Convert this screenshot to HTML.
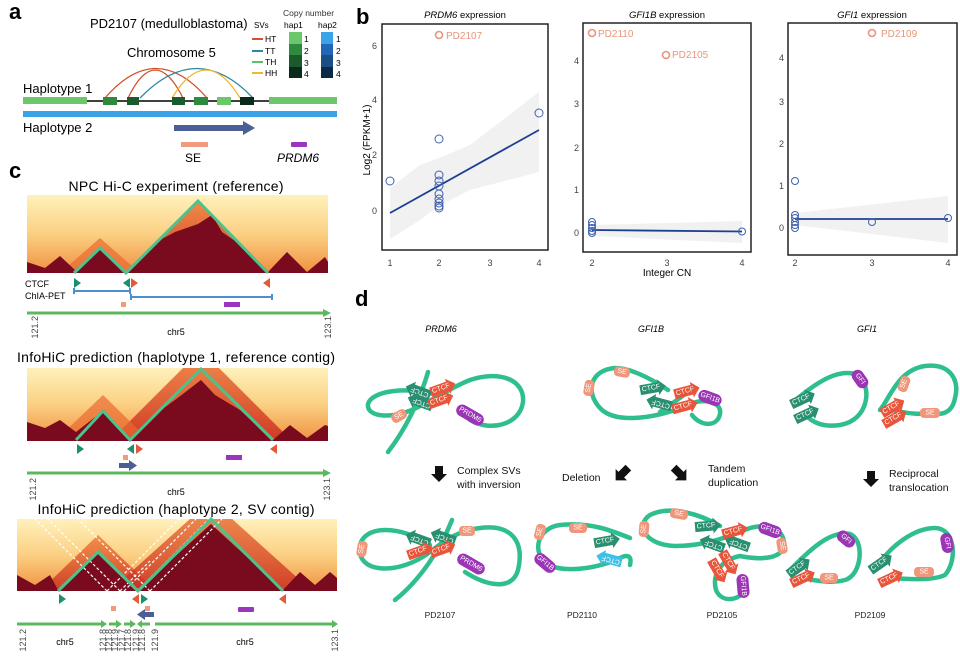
<!DOCTYPE html>
<html><head><meta charset="utf-8"><style>
html,body{margin:0;padding:0;background:#fff;}
svg{display:block;font-family:"Liberation Sans",Arial,sans-serif;}
.t{font-size:7px;fill:#fff;text-anchor:middle;dominant-baseline:central;}
.ax{font-size:9px;fill:#444;}
</style></head><body>
<svg width="960" height="661" viewBox="0 0 960 661" xmlns="http://www.w3.org/2000/svg">
<defs>
<linearGradient id="hg" x1="0" y1="0" x2="0" y2="1">
<stop offset="0" stop-color="#fff1bb"/><stop offset="0.5" stop-color="#fbd083"/><stop offset="1" stop-color="#f09040"/>
</linearGradient>
<linearGradient id="og" x1="0" y1="0" x2="0" y2="1">
<stop offset="0" stop-color="#f07a35"/><stop offset="1" stop-color="#c82a20"/>
</linearGradient>
<clipPath id="c1"><rect x="27" y="195" width="301" height="78"/></clipPath>
<clipPath id="c2"><rect x="27" y="368" width="301" height="73"/></clipPath>
<clipPath id="c3"><rect x="17" y="519" width="320" height="72"/></clipPath>
<g id="ctg"><polygon points="-13,-5 5,-5 5,-8 13,0 5,8 5,5 -13,5"/><text class="t" x="-2" y="0">CTCF</text></g>
</defs>

<!-- ===== Panel a ===== -->
<text x="9" y="19" font-size="22" font-weight="bold">a</text>
<text x="90" y="28" font-size="13">PD2107 (medulloblastoma)</text>
<text x="127" y="57" font-size="13">Chromosome 5</text>
<text x="254" y="28" font-size="8">SVs</text>
<text x="283" y="16" font-size="8.5" fill="#333">Copy number</text>
<text x="284" y="28" font-size="8.5">hap1</text>
<text x="318" y="28" font-size="8.5">hap2</text>
<g stroke-width="2"><line x1="252" y1="39" x2="263" y2="39" stroke="#d0532a"/><line x1="252" y1="51" x2="263" y2="51" stroke="#2a8aa0"/><line x1="252" y1="62" x2="263" y2="62" stroke="#5cbf6a"/><line x1="252" y1="73" x2="263" y2="73" stroke="#f2b630"/></g>
<g font-size="8.5"><text x="265" y="42">HT</text><text x="265" y="54">TT</text><text x="265" y="65">TH</text><text x="265" y="76">HH</text></g>
<rect x="289" y="32" width="13" height="12" fill="#6cc76a"/><rect x="289" y="44" width="13" height="11" fill="#2e8b3e"/><rect x="289" y="55" width="13" height="12" fill="#1a5a2c"/><rect x="289" y="67" width="13" height="11" fill="#0b2a1a"/>
<rect x="321" y="32" width="12" height="12" fill="#3aa2e6"/><rect x="321" y="44" width="12" height="11" fill="#2266b8"/><rect x="321" y="55" width="12" height="12" fill="#1a4f85"/><rect x="321" y="67" width="12" height="11" fill="#0c2a48"/>
<g font-size="8.5"><text x="304" y="42">1</text><text x="304" y="54">2</text><text x="304" y="66">3</text><text x="304" y="77">4</text>
<text x="336" y="42">1</text><text x="336" y="54">2</text><text x="336" y="66">3</text><text x="336" y="77">4</text></g>
<g fill="none" stroke-width="1.3">
<path d="M105,98 Q156,39 207,98" stroke="#d0532a"/>
<path d="M128,98 Q155,42 183,98" stroke="#d0532a"/>
<path d="M140,98 Q197,39 253,98" stroke="#2a8aa0"/>
<path d="M172,98 Q206,42 240,98" stroke="#f2b630"/>
</g>
<text x="23" y="93" font-size="13">Haplotype 1</text>
<line x1="87" y1="101" x2="270" y2="101" stroke="#000" stroke-width="1.5"/>
<rect x="23" y="97" width="64" height="7" fill="#6cc76a"/>
<rect x="269" y="97" width="68" height="7" fill="#6cc76a"/>
<rect x="103" y="97" width="14" height="8" fill="#2e8b3e"/>
<rect x="127" y="97" width="12" height="8" fill="#1a5a2c"/>
<rect x="172" y="97" width="13" height="8" fill="#1a5a2c"/>
<rect x="194" y="97" width="14" height="8" fill="#2e8b3e"/>
<rect x="217" y="97" width="14" height="8" fill="#6cc76a"/>
<rect x="240" y="97" width="14" height="8" fill="#0b2a1a"/>
<rect x="23" y="111" width="314" height="6" fill="#3aa2e6"/>
<text x="23" y="132" font-size="13">Haplotype 2</text>
<rect x="174" y="125" width="70" height="6" fill="#4b5e95"/><polygon points="243,121 255,128 243,135" fill="#4b5e95"/>
<rect x="181" y="142" width="27" height="5" fill="#f09a7e"/>
<rect x="291" y="142" width="16" height="5" rx="1" fill="#9a35bf"/>
<text x="185" y="162" font-size="12">SE</text>
<text x="277" y="162" font-size="12" font-style="italic">PRDM6</text>

<!-- ===== Panel c ===== -->
<text x="9" y="178" font-size="22" font-weight="bold">c</text>
<text x="176" y="191" font-size="14" text-anchor="middle" textLength="215">NPC Hi-C experiment (reference)</text>
<g clip-path="url(#c1)">
<rect x="27" y="195" width="301" height="78" fill="url(#hg)"/>
<polygon points="126,273 198,200 270,273" fill="url(#og)" opacity="0.85"/>
<polygon points="60,273 100,238 140,273" fill="#ea6a30" opacity="0.7"/>
<polygon points="27,273 27,262 45,268 60,256 75,270 100,248 126,272 140,258 160,240 175,232 198,224 212,215 222,232 245,248 268,272 287,252 307,272 325,257 328,262 328,273" fill="#7a0a1e"/>
</g>
<polyline points="74,273 100,248 126,273 198,201 268,273" fill="none" stroke="#4cc38f" stroke-width="3"/>
<text x="25" y="287" font-size="9">CTCF</text>
<text x="25" y="299" font-size="9">ChIA-PET</text>
<polygon points="74,278 81,283 74,288" fill="#1a9070"/>
<polygon points="130,278 123,283 130,288" fill="#1a9070"/>
<polygon points="131,278 138,283 131,288" fill="#e25a3a"/>
<polygon points="270,278 263,283 270,288" fill="#e25a3a"/>
<g stroke="#4a8fd0" stroke-width="2"><line x1="74" y1="291" x2="130" y2="291"/><line x1="131" y1="297" x2="272" y2="297"/>
<line x1="74" y1="288" x2="74" y2="294"/><line x1="130" y1="288" x2="130" y2="294"/><line x1="131" y1="294" x2="131" y2="300"/><line x1="272" y1="294" x2="272" y2="300"/></g>
<rect x="121" y="302" width="5" height="5" fill="#f09a7e"/>
<rect x="224" y="302" width="16" height="5" fill="#9a35bf"/>
<line x1="27" y1="313" x2="324" y2="313" stroke="#5cb85c" stroke-width="3"/><polygon points="323,309 331,313 323,317" fill="#5cb85c"/>
<g class="ax" font-size="9">
<text transform="translate(38,316) rotate(-90)" text-anchor="end">121.2</text>
<text transform="translate(331,316) rotate(-90)" text-anchor="end">123.1</text>
</g>
<text x="176" y="335" font-size="9" text-anchor="middle">chr5</text>

<text x="176" y="362" font-size="14" text-anchor="middle" textLength="318">InfoHiC prediction (haplotype 1,  reference contig)</text>
<g clip-path="url(#c2)">
<rect x="27" y="368" width="301" height="73" fill="url(#hg)"/>
<polygon points="110,441 201,350 292,441" fill="url(#og)" opacity="0.85"/>
<polygon points="55,441 103,395 150,441" fill="#ea6a30" opacity="0.7"/>
<polygon points="27,441 27,422 45,428 60,420 76,432 103,411 130,438 150,418 175,400 201,380 215,395 240,410 273,440 290,425 307,438 325,425 328,426 328,441" fill="#7a0a1e"/>
</g>
<polyline points="76,440 103,411 130,440 201,369 273,440" fill="none" stroke="#4cc38f" stroke-width="3"/>
<polygon points="77,444 84,449 77,454" fill="#1a9070"/>
<polygon points="134,444 127,449 134,454" fill="#1a9070"/>
<polygon points="136,444 143,449 136,454" fill="#e25a3a"/>
<polygon points="277,444 270,449 277,454" fill="#e25a3a"/>
<rect x="123" y="455" width="5" height="5" fill="#f09a7e"/>
<rect x="226" y="455" width="16" height="5" fill="#9a35bf"/>
<rect x="119" y="463" width="11" height="5" fill="#4b5e95"/><polygon points="129,460 137,465.5 129,471" fill="#4b5e95"/>
<line x1="27" y1="473" x2="324" y2="473" stroke="#5cb85c" stroke-width="3"/><polygon points="323,469 331,473 323,477" fill="#5cb85c"/>
<g class="ax">
<text transform="translate(36,478) rotate(-90)" text-anchor="end">121.2</text>
<text transform="translate(330,478) rotate(-90)" text-anchor="end">123.1</text>
</g>
<text x="176" y="495" font-size="9" text-anchor="middle">chr5</text>

<text x="176" y="514" font-size="14" text-anchor="middle" textLength="277">InfoHiC prediction (haplotype 2,  SV contig)</text>
<g clip-path="url(#c3)">
<rect x="17" y="519" width="320" height="72" fill="url(#hg)"/>
<polygon points="40,591 98,535 156,591" fill="url(#og)" opacity="0.8"/>
<polygon points="110,591 211,500 312,591" fill="url(#og)" opacity="0.8"/>
<polygon points="17,591 17,575 35,585 50,575 58,590 98,552 120,575 138,590 211,524 283,590 300,572 315,585 330,572 337,578 337,591" fill="#7a0a1e"/>
<g stroke="#fff" stroke-width="1.2" stroke-dasharray="3,2" fill="none">
<line x1="107" y1="591" x2="35" y2="519"/><line x1="120" y1="591" x2="48" y2="519"/><line x1="124" y1="591" x2="196" y2="519"/>
<line x1="137" y1="591" x2="209" y2="519"/><line x1="150" y1="591" x2="222" y2="519"/><line x1="107" y1="591" x2="179" y2="519"/>
<line x1="120" y1="591" x2="150" y2="561"/><line x1="137" y1="591" x2="110" y2="564"/><line x1="150" y1="591" x2="78" y2="519"/>
</g>
</g>
<polyline points="58,591 98,552 138,591 211,519 283,591" fill="none" stroke="#4cc38f" stroke-width="3"/>
<polygon points="59,594 66,599 59,604" fill="#1a9070"/>
<polygon points="139,594 132,599 139,604" fill="#e25a3a"/>
<polygon points="141,594 148,599 141,604" fill="#1a9070"/>
<polygon points="286,594 279,599 286,604" fill="#e25a3a"/>
<rect x="111" y="606" width="5" height="5" fill="#f09a7e"/>
<rect x="145" y="606" width="5" height="5" fill="#f09a7e"/>
<rect x="238" y="607" width="16" height="5" rx="1" fill="#9a35bf"/>
<rect x="144" y="612" width="10" height="5" fill="#4b5e95"/><polygon points="145,609 137,614.5 145,620" fill="#4b5e95"/>
<g stroke="#5cb85c" stroke-width="3"><line x1="17" y1="624" x2="102" y2="624"/><line x1="109" y1="624" x2="117" y2="624"/><line x1="124" y1="624" x2="131" y2="624"/><line x1="141" y1="624" x2="150" y2="624"/><line x1="155" y1="624" x2="333" y2="624"/></g>
<g fill="#5cb85c"><polygon points="101,620 107,624 101,628"/><polygon points="116,620 122,624 116,628"/><polygon points="130,620 136,624 130,628"/><polygon points="142,620 137,624 142,628"/><polygon points="332,620 338,624 332,628"/></g>
<g class="ax" font-size="8">
<text transform="translate(26,629) rotate(-90)" text-anchor="end">121.2</text>
<text transform="translate(106,629) rotate(-90)" text-anchor="end">121.8</text>
<text transform="translate(112,629) rotate(-90)" text-anchor="end">121.8</text>
<text transform="translate(118,629) rotate(-90)" text-anchor="end">121.9</text>
<text transform="translate(125,629) rotate(-90)" text-anchor="end">121.7</text>
<text transform="translate(131,629) rotate(-90)" text-anchor="end">121.8</text>
<text transform="translate(139,629) rotate(-90)" text-anchor="end">121.9</text>
<text transform="translate(145,629) rotate(-90)" text-anchor="end">121.8</text>
<text transform="translate(158,629) rotate(-90)" text-anchor="end">121.9</text>
<text transform="translate(338,629) rotate(-90)" text-anchor="end">123.1</text>
</g>
<text x="65" y="645" font-size="9" text-anchor="middle">chr5</text>
<text x="245" y="645" font-size="9" text-anchor="middle">chr5</text>

<!-- ===== Panel b ===== -->
<text x="356" y="24" font-size="22" font-weight="bold">b</text>
<text transform="translate(370,140) rotate(-90)" font-size="10" text-anchor="middle">Log2 (FPKM+1)</text>
<!-- plot1 -->
<text x="465" y="18" font-size="9.5" text-anchor="middle"><tspan font-style="italic">PRDM6</tspan> expression</text>
<polygon points="390,188 420,165 439,158 470,145 539,92 539,172 470,190 439,206 420,220 390,239" fill="#ebebeb" opacity="0.7"/>
<line x1="390" y1="213" x2="539" y2="130" stroke="#1c3f94" stroke-width="1.8"/>
<g fill="none" stroke="#4060b0" stroke-width="1">
<circle cx="390" cy="181" r="4"/><circle cx="439" cy="139" r="4"/><circle cx="439" cy="175" r="4"/><circle cx="439" cy="181" r="4"/><circle cx="439" cy="186" r="4"/><circle cx="439" cy="194" r="4"/><circle cx="439" cy="199" r="4"/><circle cx="439" cy="203" r="4"/><circle cx="439" cy="206" r="4"/><circle cx="439" cy="208" r="4"/><circle cx="539" cy="113" r="4"/>
</g>
<circle cx="439" cy="35" r="3.5" fill="none" stroke="#e8957a" stroke-width="1.6"/>
<text x="446" y="39" font-size="10" fill="#e8957a">PD2107</text>
<rect x="382" y="24" width="166" height="226" fill="none" stroke="#222" stroke-width="1.5"/>
<g class="ax" text-anchor="end"><text x="377" y="49">6</text><text x="377" y="103">4</text><text x="377" y="158">2</text><text x="377" y="214">0</text></g>
<g class="ax" text-anchor="middle"><text x="390" y="266">1</text><text x="439" y="266">2</text><text x="490" y="266">3</text><text x="539" y="266">4</text></g>
<!-- plot2 -->
<text x="667" y="18" font-size="9.5" text-anchor="middle"><tspan font-style="italic">GFI1B</tspan> expression</text>
<polygon points="592,225 742,221 742,243 592,236" fill="#ebebeb" opacity="0.7"/>
<line x1="592" y1="230" x2="742" y2="231.5" stroke="#1c3f94" stroke-width="1.8"/>
<g fill="none" stroke="#4060b0" stroke-width="1">
<circle cx="592" cy="222" r="3.5"/><circle cx="592" cy="225" r="3.5"/><circle cx="592" cy="228" r="3.5"/><circle cx="592" cy="231" r="3.5"/><circle cx="592" cy="233" r="3.5"/><circle cx="742" cy="231.5" r="3.5"/>
</g>
<circle cx="592" cy="33" r="3.5" fill="none" stroke="#e8957a" stroke-width="1.6"/>
<text x="598" y="37" font-size="10" fill="#e8957a">PD2110</text>
<circle cx="666" cy="55" r="3.5" fill="none" stroke="#e8957a" stroke-width="1.6"/>
<text x="672" y="58" font-size="10" fill="#e8957a">PD2105</text>
<rect x="583" y="23" width="168" height="229" fill="none" stroke="#222" stroke-width="1.5"/>
<g class="ax" text-anchor="end"><text x="579" y="64">4</text><text x="579" y="107">3</text><text x="579" y="151">2</text><text x="579" y="193">1</text><text x="579" y="236">0</text></g>
<g class="ax" text-anchor="middle"><text x="592" y="266">2</text><text x="667" y="266">3</text><text x="742" y="266">4</text></g>
<text x="667" y="276" font-size="10" text-anchor="middle">Integer CN</text>
<!-- plot3 -->
<text x="872" y="18" font-size="9.5" text-anchor="middle"><tspan font-style="italic">GFI1</tspan> expression</text>
<polygon points="795,213 948,196 948,243 795,225" fill="#ebebeb" opacity="0.7"/>
<line x1="795" y1="219" x2="948" y2="219" stroke="#1c3f94" stroke-width="1.8"/>
<g fill="none" stroke="#4060b0" stroke-width="1">
<circle cx="795" cy="181" r="3.5"/><circle cx="795" cy="215" r="3.5"/><circle cx="795" cy="218" r="3.5"/><circle cx="795" cy="222" r="3.5"/><circle cx="795" cy="225" r="3.5"/><circle cx="795" cy="228" r="3.5"/><circle cx="872" cy="222" r="3.5"/><circle cx="948" cy="218" r="3.5"/>
</g>
<circle cx="872" cy="33" r="3.5" fill="none" stroke="#e8957a" stroke-width="1.6"/>
<text x="881" y="37" font-size="10" fill="#e8957a">PD2109</text>
<rect x="788" y="23" width="169" height="232" fill="none" stroke="#222" stroke-width="1.5"/>
<g class="ax" text-anchor="end"><text x="784" y="61">4</text><text x="784" y="105">3</text><text x="784" y="147">2</text><text x="784" y="189">1</text><text x="784" y="231">0</text></g>
<g class="ax" text-anchor="middle"><text x="795" y="266">2</text><text x="872" y="266">3</text><text x="948" y="266">4</text></g>

<!-- ===== Panel d ===== -->
<text x="355" y="306" font-size="22" font-weight="bold">d</text>
<g font-size="9" font-style="italic" text-anchor="middle"><text x="441" y="332">PRDM6</text><text x="651" y="332">GFI1B</text><text x="867" y="332">GFI1</text></g>
<g font-size="10.5" fill="#111">
<text x="457" y="474">Complex SVs</text><text x="457" y="488">with inversion</text>
<text x="562" y="481">Deletion</text>
<text x="708" y="472">Tandem</text><text x="708" y="486">duplication</text>
<text x="889" y="477">Reciprocal</text><text x="889" y="491">translocation</text>
</g>
<g fill="#111">
<polygon points="435,466 443,466 443,474 447,474 439,482 431,474 435,474"/>
<polygon points="867,471 875,471 875,479 879,479 871,487 863,479 867,479"/>
<g transform="translate(622,474) rotate(45)"><polygon points="-4,-9 4,-9 4,1 8,1 0,9 -8,1 -4,1"/></g>
<g transform="translate(680,474) rotate(-45)"><polygon points="-4,-9 4,-9 4,1 8,1 0,9 -8,1 -4,1"/></g>
</g>
<g font-size="8.5" text-anchor="middle" fill="#222"><text x="440" y="618">PD2107</text><text x="582" y="618">PD2110</text><text x="722" y="618">PD2105</text><text x="870" y="618">PD2109</text></g>

<g fill="none" stroke="#2fbf8f" stroke-width="4.5" stroke-linecap="round">
<!-- top PRDM6 -->
<path d="M388,452 C405,430 420,400 428,372"/>
<path d="M440,396 C410,386 372,390 368,404 C366,418 395,420 420,406 C440,396 450,388 470,380 C500,370 525,380 523,402 C520,425 490,432 470,420"/>
<!-- top GFI1B -->
<path d="M668,390 C650,378 630,368 615,368 C590,370 585,392 600,408 C615,425 660,418 690,404 C705,398 722,402 720,414 C717,428 700,426 692,415"/>
<path d="M660,412 C670,405 680,398 688,392"/>
<!-- top GFI1 -->
<path d="M798,398 C820,380 840,368 858,375 C872,385 870,420 840,425 C820,428 810,420 806,415"/>
<path d="M880,410 C890,398 898,370 925,366 C950,363 960,380 955,398 C952,415 940,415 925,414 C910,414 900,412 893,410"/>
<!-- PD2107 -->
<path d="M395,600 C420,580 440,550 452,520"/>
<path d="M430,545 C400,525 365,525 360,545 C355,575 400,575 430,552 C445,540 460,530 480,528 C510,524 525,540 518,570 C512,592 485,585 465,572"/>
<!-- PD2110 -->
<path d="M630,538 C610,530 590,522 560,525 C538,528 532,550 545,562 C560,575 600,568 620,558 C628,554 632,556 630,565"/>
<!-- PD2105 -->
<path d="M720,526 C700,514 670,505 650,515 C635,525 645,545 675,546 C700,546 720,540 740,532 C760,522 782,525 784,542 C785,560 760,560 740,556 C720,560 712,575 716,590 C722,604 740,600 745,590"/>
<!-- PD2109 -->
<path d="M790,570 C810,550 830,530 850,534 C865,540 862,575 845,580 C830,584 815,580 800,578"/>
<path d="M875,570 C890,545 915,528 935,528 C955,528 958,560 945,575 C930,582 900,578 885,578"/>
</g>

<!-- tags -->
<g>
<!-- top PRDM6 -->
<g fill="#2a8f70"><use href="#ctg" transform="translate(418,391) rotate(200)"/><use href="#ctg" transform="translate(420,402) rotate(200)"/></g>
<g fill="#e8553a"><use href="#ctg" transform="translate(443,388) rotate(-20)"/><use href="#ctg" transform="translate(441,400) rotate(-20)"/></g>
<g transform="translate(399,416) rotate(-30)"><rect x="-8" y="-5" width="16" height="10" rx="4" fill="#f0967a"/><text class="t">SE</text></g>
<g transform="translate(470,415) rotate(30)"><rect x="-15" y="-6" width="30" height="12" rx="6" fill="#9b35b5"/><text class="t">PRDM6</text></g>
<!-- top GFI1B -->
<g transform="translate(622,372) rotate(10)"><rect x="-8" y="-5" width="16" height="10" rx="4" fill="#f0967a"/><text class="t">SE</text></g>
<g transform="translate(589,388) rotate(-80)"><rect x="-8" y="-5" width="16" height="10" rx="4" fill="#f0967a"/><text class="t">SE</text></g>
<g fill="#2a8f70"><use href="#ctg" transform="translate(653,388) rotate(-10)"/><use href="#ctg" transform="translate(659,403) rotate(195)"/></g>
<g fill="#e8553a"><use href="#ctg" transform="translate(687,391) rotate(-15)"/><use href="#ctg" transform="translate(685,406) rotate(-15)"/></g>
<g transform="translate(710,398) rotate(20)"><rect x="-12" y="-6" width="24" height="12" rx="6" fill="#9b35b5"/><text class="t">GFI1B</text></g>
<!-- top GFI1 -->
<g transform="translate(860,379) rotate(55)"><rect x="-10" y="-6" width="20" height="12" rx="6" fill="#9b35b5"/><text class="t">GFI</text></g>
<g fill="#2a8f70"><use href="#ctg" transform="translate(803,399) rotate(-25)"/><use href="#ctg" transform="translate(807,414) rotate(-25)"/></g>
<g transform="translate(904,384) rotate(-70)"><rect x="-8" y="-5" width="16" height="10" rx="4" fill="#f0967a"/><text class="t">SE</text></g>
<g fill="#e8553a"><use href="#ctg" transform="translate(893,407) rotate(-30)"/><use href="#ctg" transform="translate(895,418) rotate(-30)"/></g>
<g transform="translate(930,413)"><rect x="-10" y="-5" width="20" height="10" rx="4" fill="#f0967a"/><text class="t">SE</text></g>
<!-- PD2107 -->
<g transform="translate(362,549) rotate(-80)"><rect x="-8" y="-5" width="16" height="10" rx="4" fill="#f0967a"/><text class="t">SE</text></g>
<g fill="#2a8f70"><use href="#ctg" transform="translate(418,539) rotate(200)"/><use href="#ctg" transform="translate(443,537) rotate(200)"/></g>
<g fill="#e8553a"><use href="#ctg" transform="translate(420,551) rotate(-20)"/><use href="#ctg" transform="translate(443,549) rotate(-20)"/></g>
<g transform="translate(467,531)"><rect x="-8" y="-5" width="16" height="10" rx="4" fill="#f0967a"/><text class="t">SE</text></g>
<g transform="translate(471,564) rotate(30)"><rect x="-15" y="-6" width="30" height="12" rx="6" fill="#9b35b5"/><text class="t">PRDM6</text></g>
<!-- PD2110 -->
<g transform="translate(540,532) rotate(-75)"><rect x="-8" y="-5" width="16" height="10" rx="4" fill="#f0967a"/><text class="t">SE</text></g>
<g transform="translate(578,528)"><rect x="-9" y="-5" width="18" height="10" rx="4" fill="#f0967a"/><text class="t">SE</text></g>
<g fill="#2a8f70"><use href="#ctg" transform="translate(607,541) rotate(-10)"/></g>
<g fill="#3ec0e8"><use href="#ctg" transform="translate(609,559) rotate(195)"/></g>
<g transform="translate(545,563) rotate(40)"><rect x="-12" y="-6" width="24" height="12" rx="6" fill="#9b35b5"/><text class="t">GFI1B</text></g>
<!-- PD2105 -->
<g transform="translate(644,529) rotate(-85)"><rect x="-8" y="-5" width="16" height="10" rx="4" fill="#f0967a"/><text class="t">SE</text></g>
<g transform="translate(679,514) rotate(10)"><rect x="-9" y="-5" width="18" height="10" rx="4" fill="#f0967a"/><text class="t">SE</text></g>
<g fill="#2a8f70"><use href="#ctg" transform="translate(708,526) rotate(-5)"/><use href="#ctg" transform="translate(712,544) rotate(200)"/><use href="#ctg" transform="translate(737,543) rotate(200)"/></g>
<g fill="#e8553a"><use href="#ctg" transform="translate(735,531) rotate(-15)"/><use href="#ctg" transform="translate(729,563) rotate(60)"/><use href="#ctg" transform="translate(718,571) rotate(60)"/></g>
<g transform="translate(770,530) rotate(20)"><rect x="-12" y="-6" width="24" height="12" rx="6" fill="#9b35b5"/><text class="t">GFI1B</text></g>
<g transform="translate(782,546) rotate(80)"><rect x="-8" y="-5" width="16" height="10" rx="4" fill="#f0967a"/><text class="t">SE</text></g>
<g transform="translate(743,586) rotate(85)"><rect x="-12" y="-6" width="24" height="12" rx="6" fill="#9b35b5"/><text class="t">GFI1B</text></g>
<!-- PD2109 -->
<g transform="translate(846,539) rotate(40)"><rect x="-10" y="-6" width="20" height="12" rx="6" fill="#9b35b5"/><text class="t">GFI</text></g>
<g fill="#2a8f70"><use href="#ctg" transform="translate(799,567) rotate(-35)"/><use href="#ctg" transform="translate(881,563) rotate(-35)"/></g>
<g fill="#e8553a"><use href="#ctg" transform="translate(803,578) rotate(-25)"/><use href="#ctg" transform="translate(891,578) rotate(-25)"/></g>
<g transform="translate(829,578)"><rect x="-9" y="-5" width="18" height="10" rx="4" fill="#f0967a"/><text class="t">SE</text></g>
<g transform="translate(947,543) rotate(80)"><rect x="-10" y="-6" width="20" height="12" rx="6" fill="#9b35b5"/><text class="t">GFI</text></g>
<g transform="translate(924,572)"><rect x="-10" y="-5" width="20" height="10" rx="4" fill="#f0967a"/><text class="t">SE</text></g>
</g>
</svg>
</body></html>
